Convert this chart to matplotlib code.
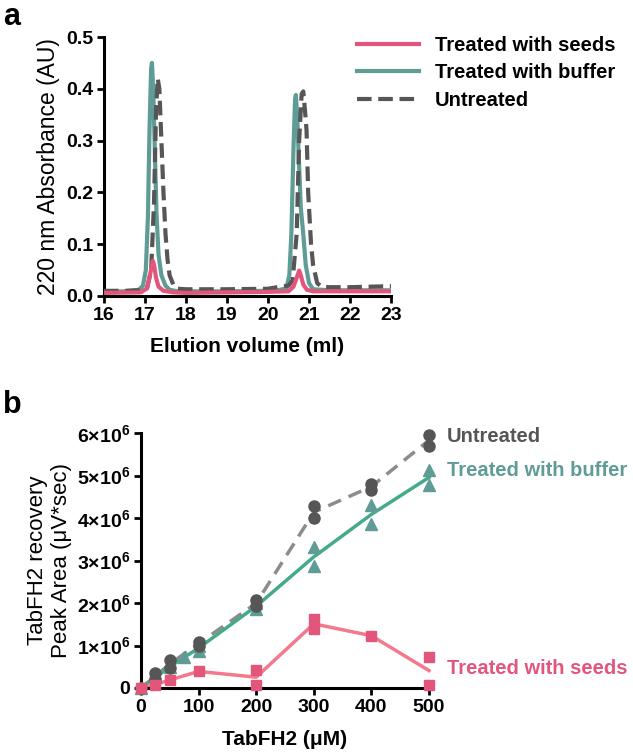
#two panel figure: chromatograms (a) and peak area recovery (b)
import matplotlib.pyplot as plt
import numpy as np

plt.rcParams['font.family'] = ['Liberation Sans', 'DejaVu Sans']
plt.rcParams['mathtext.fontset'] = 'custom'
plt.rcParams['mathtext.rm'] = 'Liberation Sans:bold'
plt.rcParams['mathtext.bf'] = 'Liberation Sans:bold'
plt.rcParams['mathtext.default'] = 'rm'

#panel a traces (elution volume ml, absorbance AU)
buffer_x = [16.0, 16.5, 16.85, 16.95, 17.02, 17.07, 17.11, 17.15, 17.17, 17.2, 17.24, 17.28, 17.33, 17.4, 17.5, 17.6, 17.8,
            18.0, 19.0, 20.0, 20.3, 20.45, 20.52, 20.57, 20.62, 20.66, 20.68, 20.71, 20.75, 20.8, 20.86, 20.92, 21.0, 21.1,
            21.5, 22.0, 23.0]
buffer_y = [0.008, 0.009, 0.012, 0.02, 0.05, 0.15, 0.32, 0.44, 0.45, 0.40, 0.28, 0.16, 0.08, 0.04, 0.02, 0.012, 0.009,
            0.009, 0.009, 0.010, 0.012, 0.015, 0.04, 0.12, 0.28, 0.38, 0.388, 0.35, 0.27, 0.17, 0.12, 0.06, 0.025, 0.013,
            0.011, 0.011, 0.011]

untreated_x = [16.0, 16.5, 16.9, 17.05, 17.15, 17.22, 17.27, 17.31, 17.35, 17.4, 17.45, 17.5, 17.55, 17.6, 17.7, 17.8,
               18.0, 19.0, 20.0, 20.3, 20.5, 20.6, 20.7, 20.76, 20.82, 20.86, 20.9, 20.94, 20.98, 21.05, 21.1, 21.2, 21.3,
               21.5, 22.0, 22.5, 23.0]
untreated_y = [0.010, 0.010, 0.011, 0.015, 0.05, 0.18, 0.36, 0.42, 0.40, 0.30, 0.20, 0.12, 0.07, 0.04, 0.02, 0.014,
               0.013, 0.013, 0.014, 0.018, 0.020, 0.030, 0.12, 0.30, 0.39, 0.395, 0.36, 0.32, 0.20, 0.10, 0.06, 0.025, 0.018,
               0.017, 0.017, 0.018, 0.019]

seeds_x = [16.0, 16.9, 17.05, 17.12, 17.19, 17.22, 17.27, 17.33, 17.45, 17.7, 18.0, 19.0, 20.0, 20.5, 20.62, 20.7,
           20.76, 20.8, 20.86, 20.95, 21.1, 22.0, 23.0]
seeds_y = [0.006, 0.007, 0.015, 0.04, 0.068, 0.06, 0.035, 0.018, 0.010, 0.007, 0.006, 0.007, 0.008, 0.009, 0.018, 0.035,
           0.049, 0.04, 0.022, 0.012, 0.009, 0.009, 0.009]

#panel b: TabFH2 concentration (uM) vs peak area, replicates
unt_conc = [0, 25, 25, 50, 50, 100, 100, 200, 200, 300, 300, 400, 400, 500, 500]
unt_area = [0, 0.35e6, 0.21e6, 0.66e6, 0.47e6, 1.09e6, 1.0e6, 2.07e6, 1.92e6, 4.28e6, 3.99e6, 4.81e6, 4.67e6, 5.96e6, 5.70e6]

buf_conc = [0, 25, 50, 75, 100, 100, 200, 200, 300, 300, 400, 400, 500, 500]
buf_area = [0, 0.25e6, 0.5e6, 0.72e6, 0.88e6, 1.0e6, 1.85e6, 2.0e6, 3.31e6, 2.86e6, 4.30e6, 3.87e6, 5.14e6, 4.77e6]

seed_conc = [0, 25, 50, 100, 200, 200, 300, 300, 400, 500, 500]
seed_area = [0, 0.08e6, 0.19e6, 0.39e6, 0.43e6, 0.08e6, 1.62e6, 1.40e6, 1.23e6, 0.74e6, 0.08e6]

ytick_vals = [0, 1e6, 2e6, 3e6, 4e6, 5e6, 6e6]
ytick_labels = ['0'] + [r'$%d{\times}10^{6}$' % i for i in range(1, 7)]

pink = '#E3567C'
pink_line = '#F27A8C'
teal = '#5F9C95'
teal_line = '#45AA8C'
grey = '#565656'
grey_line = '#8C8C8C'

fig = plt.figure(figsize=(6.33, 7.52), dpi=100)

def style(ax, size):
    for s in ['top', 'right']:
        ax.spines[s].set_visible(False)
    for s in ['left', 'bottom']:
        ax.spines[s].set_linewidth(2.2)
    ax.tick_params(width=2.0, length=5, labelsize=size, direction='out', pad=3)
    for lab in ax.get_xticklabels() + ax.get_yticklabels():
        lab.set_fontweight('bold')

#panel a
ax1 = fig.add_axes([104/633, 1 - 296/752, 287/633, 259/752])
ax1.plot(buffer_x, buffer_y, color=teal, lw=3, label='Treated with buffer', zorder=2)
ax1.plot(untreated_x, untreated_y, color=grey, lw=3, ls=(0, (3.5, 1.6)), label='Untreated', zorder=3)
ax1.plot(seeds_x, seeds_y, color=pink, lw=3, label='Treated with seeds', zorder=4)
ax1.set_xlim(16, 23)
ax1.set_ylim(0, 0.5)
ax1.set_xticks(range(16, 24))
ax1.set_yticks([0, 0.1, 0.2, 0.3, 0.4, 0.5])
ax1.set_yticklabels(['0.0', '0.1', '0.2', '0.3', '0.4', '0.5'])
style(ax1, 14)
ax1.set_xlabel('Elution volume (ml)', fontsize=15, fontweight='bold', labelpad=9)
ax1.set_ylabel('220 nm Absorbance (AU)', fontsize=16.5, labelpad=4)
h, l = ax1.get_legend_handles_labels()
order = [2, 0, 1]
fig.legend([h[i] for i in order], [l[i] for i in order], loc='upper left',
           bbox_to_anchor=(357/633, 1 - 36/752), frameon=False, borderpad=0, borderaxespad=0,
           handlelength=3.1, handletextpad=0.75, labelspacing=0.42,
           prop={'size': 14.5, 'weight': 'bold'})

#panel b
ax2 = fig.add_axes([141/633, 1 - 688/752, 288/633, 255/752])

def means(conc, area):
    xs = sorted(set(conc))
    return xs, [np.mean([a for c, a in zip(conc, area) if c == x]) for x in xs]

mx, my = means(unt_conc, unt_area)
ax2.plot(mx, my, color=grey_line, lw=2.5, ls=(0, (4, 2.4)), zorder=2, clip_on=False)
mx, my = means(buf_conc, buf_area)
ax2.plot(mx, my, color=teal_line, lw=2.5, zorder=2, clip_on=False)
mx, my = means(seed_conc, seed_area)
ax2.plot(mx, my, color=pink_line, lw=2.5, zorder=2, clip_on=False)
ax2.plot(buf_conc, buf_area, ls='none', marker='^', ms=8, color=teal, zorder=3, clip_on=False)
ax2.plot(unt_conc, unt_area, ls='none', marker='o', ms=8, color=grey, zorder=4, clip_on=False)
ax2.plot(seed_conc, seed_area, ls='none', marker='s', ms=7.5, color=pink, zorder=5, clip_on=False)
ax2.set_xlim(0, 500)
ax2.set_ylim(0, 6e6)
ax2.set_xticks([0, 100, 200, 300, 400, 500])
ax2.set_yticks(ytick_vals)
ax2.set_yticklabels(ytick_labels)
style(ax2, 14)
ax2.set_xlabel('TabFH2 (μM)', fontsize=15, fontweight='bold', labelpad=10)
ax2.set_ylabel('TabFH2 recovery\nPeak Area (μV*sec)', fontsize=16, labelpad=3, linespacing=1.2)

fig.text(447/633, 1 - 437/752, 'Untreated', color=grey, fontsize=14.5, fontweight='bold', va='center')
fig.text(447/633, 1 - 471/752, 'Treated with buffer', color=teal, fontsize=14.5, fontweight='bold', va='center')
fig.text(447/633, 1 - 668/752, 'Treated with seeds', color=pink, fontsize=14.5, fontweight='bold', va='center')

fig.text(3/633, 1 - 17/752, 'a', fontsize=22, fontweight='bold', va='center')
fig.text(3/633, 1 - 405/752, 'b', fontsize=22, fontweight='bold', va='center')

plt.savefig('out.png', dpi=100)
